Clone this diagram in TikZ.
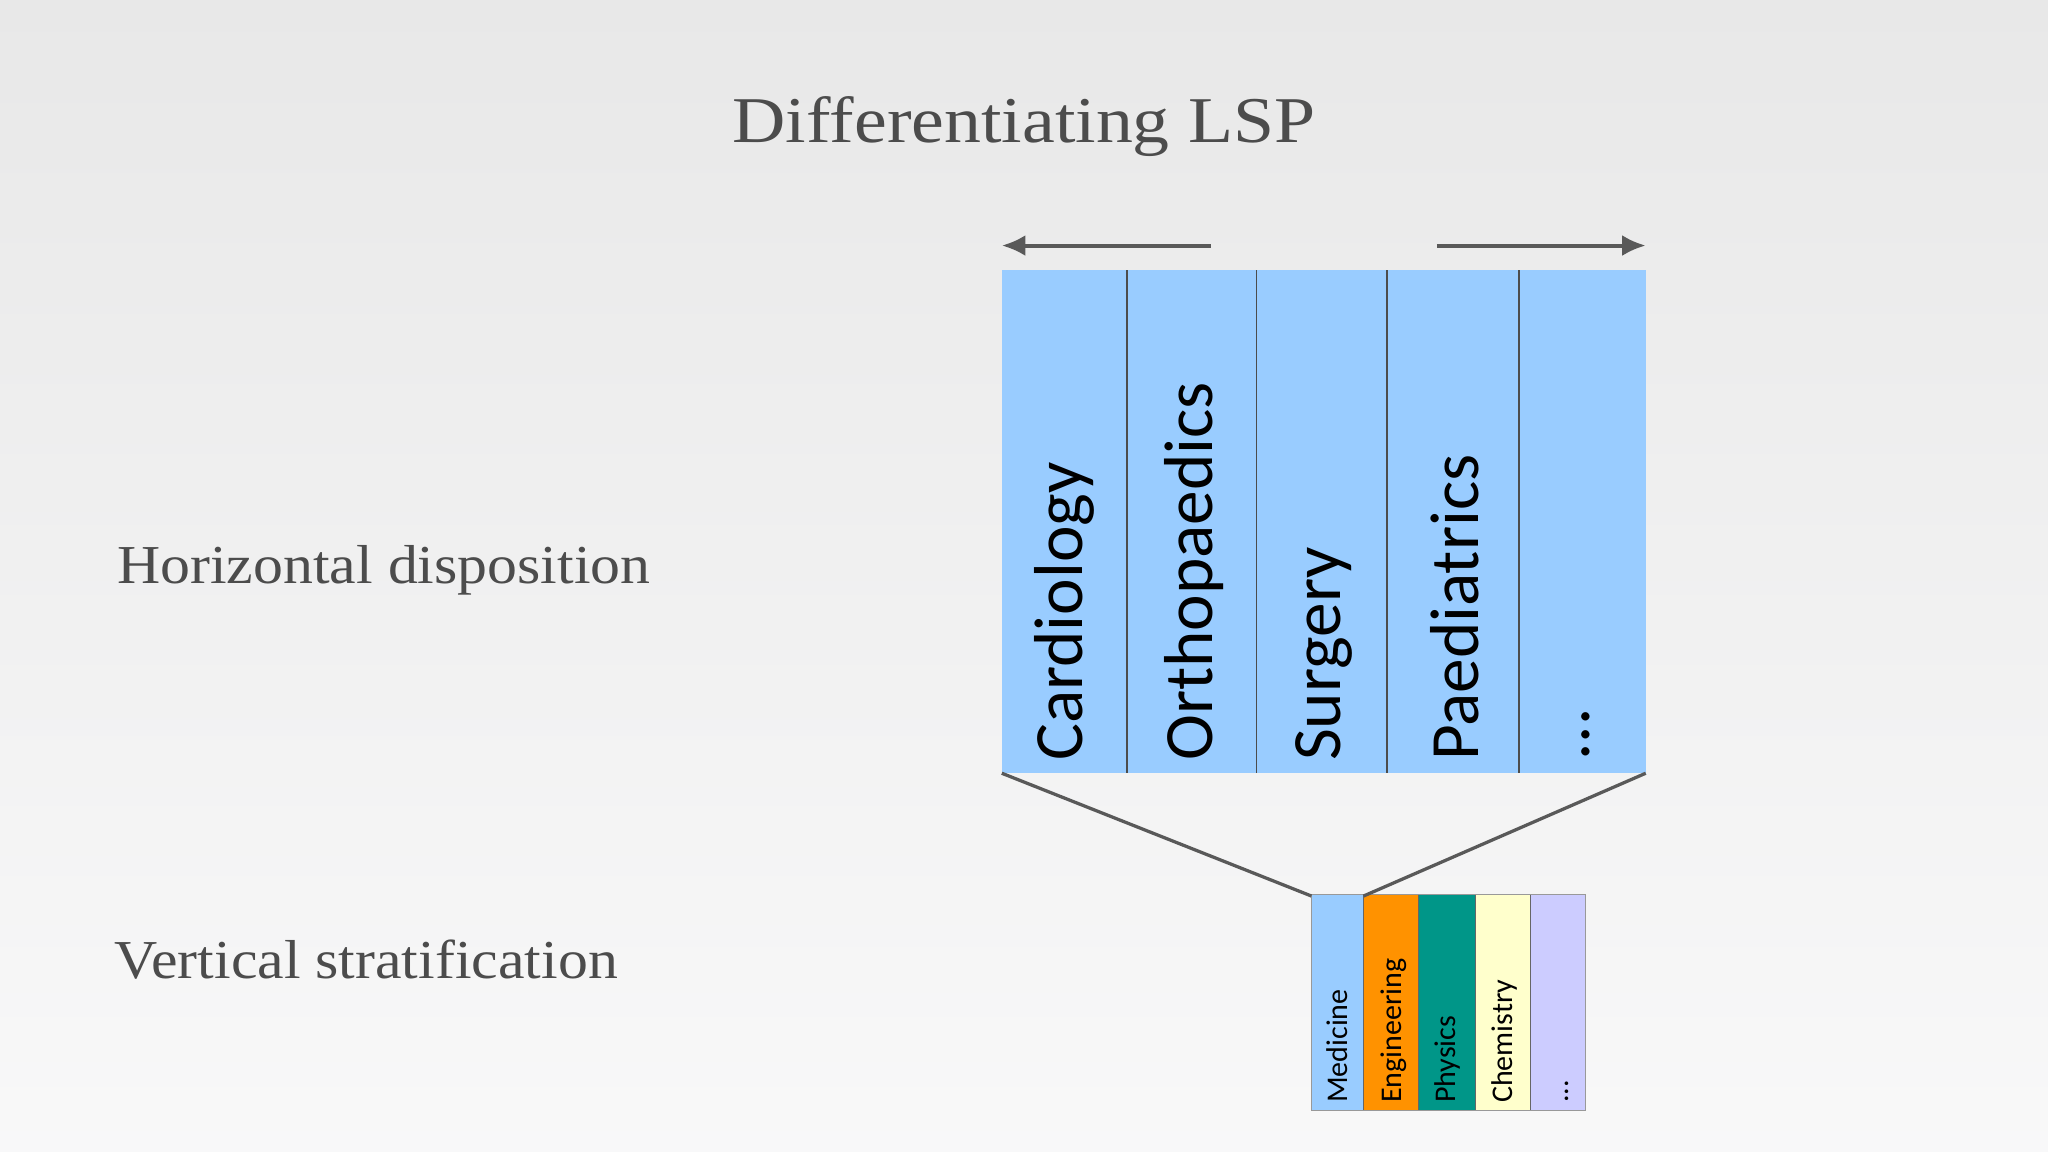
\documentclass[tikz,border=0pt]{standalone}
\usepackage{fontspec}
\usetikzlibrary{arrows.meta}
\setmainfont{Liberation Serif}
\newfontfamily\calfont{Carlito}
\begin{document}
\begin{tikzpicture}[x=1pt,y=-1pt,
  col/.style={draw=black!70,line width=1.2pt},
  big/.style={font=\calfont\fontsize{53}{53}\selectfont,rotate=90,anchor=west},
  small/.style={font=\calfont\fontsize{23}{23}\selectfont,rotate=90,anchor=west},
  arr/.style={draw=black!65,line width=3pt,-{Latex[length=18pt,width=16pt]}},
  ln/.style={draw=black!65,line width=2.5pt}]
\useasboundingbox (0,0) rectangle (1568,882);
\shade[top color=gray!18,bottom color=blue!3!gray!5] (0,0) rectangle (1568,882);
\node[text=black!70,font=\fontsize{50}{50}\selectfont,xscale=1.13] (title) at (784,97) {Differentiating LSP};
\node[text=black!70,anchor=west,font=\fontsize{42}{42}\selectfont,xscale=1.09] (h) at (86,437) {Horizontal disposition};
\node[text=black!70,anchor=west,font=\fontsize{42}{42}\selectfont,xscale=1.09] (v) at (84,735) {Vertical stratification};
% big box
\fill[color={rgb,255:red,153;green,204;blue,255}] (767,207) rectangle (1260,592);
\foreach \x in {863,962,1062,1163} \draw[col] (\x,207) -- (\x,592);
\node[big] (c1) at (815,586) {Cardiology};
\node[big] (c2) at (914,586) {Orthopaedics};
\node[big] (c3) at (1014,586) {Surgery};
\node[big] (c4) at (1114,586) {Paediatrics};
\node[big] (c5) at (1214,586) {...};
\coordinate (tl) at (767,592); \coordinate (tr) at (1260,592);
\coordinate (a1) at (927,188); \coordinate (a2) at (767,188);
\coordinate (b1) at (1100,188); \coordinate (b2) at (1260,188);
\draw[arr] (a1) -- (a2);
\draw[arr] (b1) -- (b2);
% small box
\fill[color={rgb,255:red,153;green,204;blue,255}] (1004,685) rectangle (1044,850);
\fill[color={rgb,255:red,255;green,146;blue,0}] (1044,685) rectangle (1086,850);
\fill[color={rgb,255:red,0;green,150;blue,136}] (1086,685) rectangle (1130,850);
\fill[color={rgb,255:red,255;green,255;blue,204}] (1130,685) rectangle (1172,850);
\fill[color={rgb,255:red,204;green,204;blue,255}] (1172,685) rectangle (1214,850);
\draw[black!40,line width=0.6pt] (1004,685) rectangle (1214,850);
\foreach \x in {1044,1086,1130,1172} \draw[black!60,line width=0.8pt] (\x,685) -- (\x,850);
\node[small] (s1) at (1024,848) {Medicine};
\node[small] (s2) at (1067,848) {Engineering};
\node[small] (s3) at (1108,848) {Physics};
\node[small] (s4) at (1152,848) {Chemistry};
\node[small] (s5) at (1200,848) {...};
\coordinate (bl) at (1004,686); \coordinate (br) at (1044,686);
\draw[ln] (tl) -- (bl);
\draw[ln] (tr) -- (br);
\end{tikzpicture}
\end{document}
